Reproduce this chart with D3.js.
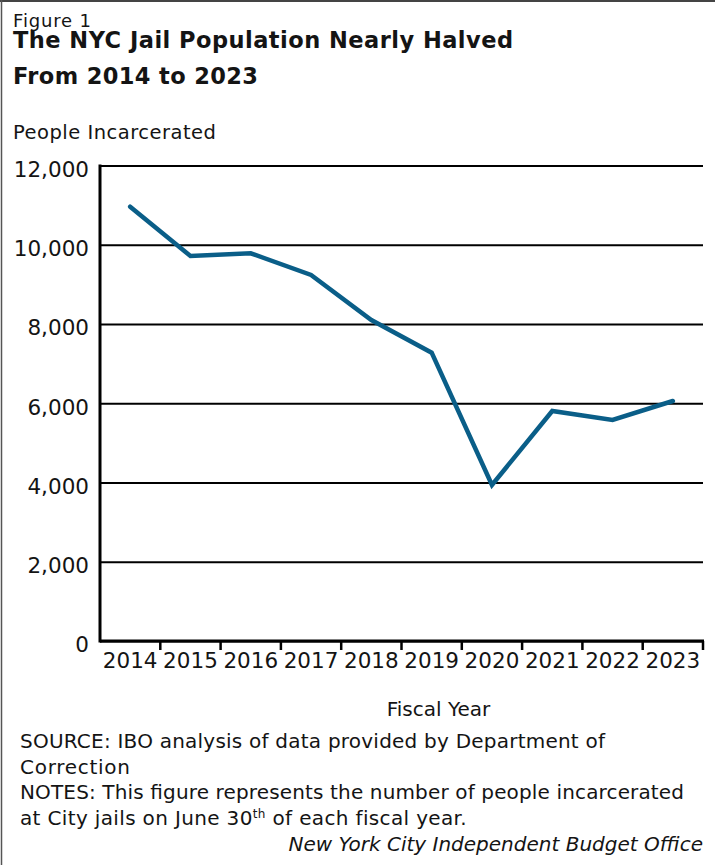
<!DOCTYPE html>
<html>
<head>
<meta charset="utf-8">
<script src="https://cdn.jsdelivr.net/npm/d3@7"></script>
<style>
  body { margin: 0; background: #fff; }
  svg { display: block; }
  text { font-family: "DejaVu Sans", sans-serif; fill: #141414; }
</style>
</head>
<body>
<svg id="chart" width="715" height="865"></svg>
<script>
const years = ["2014", "2015", "2016", "2017", "2018", "2019", "2020", "2021", "2022", "2023"];
const population = [10960, 9716, 9784, 9237, 8101, 7276, 3937, 5804, 5577, 6057];
const yTicks = [0, 2000, 4000, 6000, 8000, 10000, 12000];
const titleLines = ["The NYC Jail Population Nearly Halved", "From 2014 to 2023"];
const noteLines = [
  "SOURCE: IBO analysis of data provided by Department of",
  "Correction",
  "NOTES: This figure represents the number of people incarcerated",
  "at City jails on June 30th of each fiscal year."
];

const svg = d3.select("#chart");
const plot = { left: 100, right: 703, top: 165.5, bottom: 641 };

// frame: only top and left edges show in the original
svg.append("line").attr("x1", 0).attr("x2", 715).attr("y1", 1).attr("y2", 1)
  .attr("stroke", "#444").attr("stroke-width", 2);
svg.append("line").attr("x1", 1.5).attr("x2", 1.5).attr("y1", 0).attr("y2", 865)
  .attr("stroke", "#555").attr("stroke-width", 1.5);

svg.append("text").attr("x", 13).attr("y", 26.5).attr("font-size", 18)
  .attr("textLength", 78).attr("lengthAdjust", "spacing")
  .text("Figure 1");
const titleWidths = [500, 245];
svg.append("g").selectAll("text").data(titleLines).join("text")
  .attr("x", 13)
  .attr("y", (d, i) => 48 + i * 35.5)
  .attr("font-size", 22.5)
  .attr("font-weight", 700)
  .attr("textLength", (d, i) => titleWidths[i])
  .attr("lengthAdjust", "spacing")
  .text(d => d);
svg.append("text").attr("x", 13).attr("y", 139).attr("font-size", 19.5)
  .attr("textLength", 203).attr("lengthAdjust", "spacing")
  .text("People Incarcerated");

const x = d3.scaleBand().domain(years).range([plot.left, plot.right]);
const y = d3.scaleLinear().domain([0, 12000]).range([plot.bottom, plot.top]);

// gridlines + y labels
const yAxis = svg.append("g")
  .attr("transform", `translate(${plot.left},0)`)
  .call(d3.axisLeft(y).tickValues(yTicks).tickSize(-(plot.right - plot.left)).tickPadding(11)
    .tickFormat(d3.format(",")));
yAxis.select(".domain").remove();
yAxis.selectAll(".tick line").attr("stroke", "#000").attr("stroke-width", 2);
yAxis.selectAll(".tick text")
  .attr("font-family", "DejaVu Sans, sans-serif")
  .attr("font-size", 21.5)
  .attr("fill", "#141414")
  .attr("dy", "0.5em");

// x axis, ticks sit on the band edges
const xAxis = svg.append("g")
  .attr("transform", `translate(0,${plot.bottom})`)
  .call(d3.axisBottom(x).tickSize(0).tickPadding(12));
xAxis.select(".domain").remove();
xAxis.selectAll(".tick text")
  .attr("font-family", "DejaVu Sans, sans-serif")
  .attr("font-size", 21.5)
  .attr("fill", "#141414");
const edges = years.slice(1).map(d => x(d)).concat([plot.right]);
svg.append("g").selectAll("line").data(edges).join("line")
  .attr("x1", d => d).attr("x2", d => d)
  .attr("y1", plot.bottom).attr("y2", plot.bottom + 9)
  .attr("stroke", "#000").attr("stroke-width", 2.5);

svg.append("line")
  .attr("x1", plot.left).attr("x2", plot.right + 1)
  .attr("y1", plot.bottom).attr("y2", plot.bottom)
  .attr("stroke", "#000").attr("stroke-width", 3);
svg.append("line")
  .attr("x1", plot.left).attr("x2", plot.left)
  .attr("y1", plot.top - 1).attr("y2", plot.bottom + 1.5)
  .attr("stroke", "#000").attr("stroke-width", 3);

const line = d3.line()
  .x((d, i) => x(years[i]) + x.bandwidth() / 2)
  .y(d => y(d));
svg.append("path").datum(population)
  .attr("d", line)
  .attr("fill", "none")
  .attr("stroke", "#0a5e88")
  .attr("stroke-width", 4.5)
  .attr("stroke-linecap", "round")
  .attr("stroke-linejoin", "miter");

svg.append("text")
  .attr("x", 438.5)
  .attr("y", 716)
  .attr("text-anchor", "middle")
  .attr("font-size", 20)
  .text("Fiscal Year");

// footnotes
const noteWidths = [585, 110, 664, null];
svg.append("g").selectAll("text").data(noteLines).join("text")
  .attr("x", 20)
  .attr("y", (d, i) => 748 + i * 25.7)
  .attr("font-size", 20)
  .each(function(d, i) {
    const t = d3.select(this);
    if (d.includes("30th")) {
      const [a, b] = d.split("30th");
      t.attr("letter-spacing", 0.35);
      t.append("tspan").text(a + "30");
      t.append("tspan").attr("font-size", 12).attr("dy", -7.5).text("th");
      t.append("tspan").attr("dy", 7.5).text(b);
    } else {
      t.text(d).attr("textLength", noteWidths[i]).attr("lengthAdjust", "spacing");
    }
  });
svg.append("text")
  .attr("x", 703)
  .attr("y", 851)
  .attr("text-anchor", "end")
  .attr("font-size", 20)
  .attr("font-style", "italic")
  .text("New York City Independent Budget Office");
</script>
</body>
</html>
